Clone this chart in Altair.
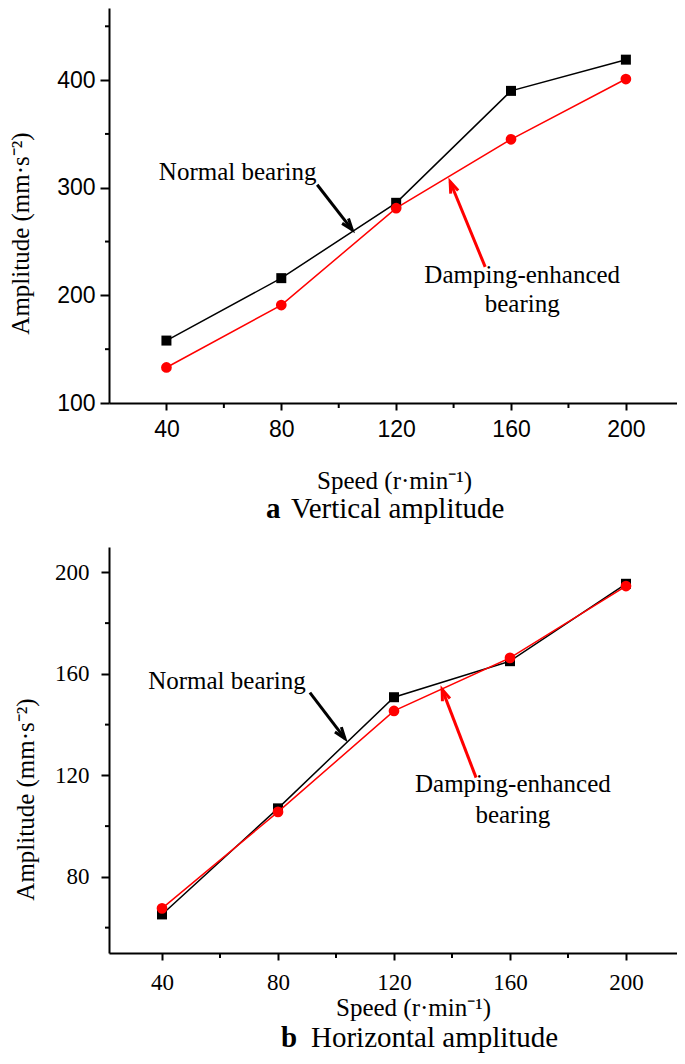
import math
import altair as alt
import pandas as pd

# ---------------- data ----------------
speeds = [40, 80, 120, 160, 200]
vert_normal = [158, 216, 286, 390, 419]
vert_damped = [133, 191, 281, 345, 401]
horiz_normal = [65.2, 107, 150.8, 165, 195.5]
horiz_damped = [67.6, 105.6, 145.4, 166.3, 194.6]

x_major = [40, 80, 120, 160, 200]
x_minor = [60, 100, 140, 180]
a_y_major = [100, 200, 300, 400]
a_y_minor = [150, 250, 350, 450]
b_y_major = [80, 120, 160, 200]
b_y_minor = [60, 100, 140, 180]

label_normal = "Normal bearing"
label_damped = ["Damping-enhanced", "bearing"]
x_title = "Speed (r\u00b7min\u207b\u00b9)"
y_title = "Amplitude (mm\u00b7s\u207b\u00b2)"
caption_a = ["a", "Vertical amplitude"]
caption_b = ["b", "Horizontal amplitude"]

# annotation anchors in data units: text (x, baseline y), arrows (x1, y1, x2, y2)
a_normal_text = (64.8, 307.4)
a_normal_arrow = (92.5, 302.8, 104.7, 260.9)
a_damp_arrow = (151.0, 226.5, 138.8, 305.6)
a_damp_text = (163.9, 211.6, 184.7)
b_normal_text = (62.4, 154.0)
b_normal_arrow = (91.0, 152.6, 103.1, 134.5)
b_damp_arrow = (148.3, 119.1, 136.6, 153.9)
b_damp_text = (161.0, 113.3, 101.2)

SERIF = "Liberation Serif"
SANS = "Liberation Sans"
CHEVRON = "M-0.5,1.4L0,0L0.5,1.4"


def make_panel(normal, damped, xdom, ydom, w, h, y_major, y_minor, tick_font,
               normal_text, normal_arrow, damp_arrow, damp_text, caption,
               x_lab_pad, x_title_y, x_title_x, y_tick, y_lab_pad,
               y_title_x, y_title_y, cap_x1, cap_x2, cap_y):
    xscale = alt.Scale(domain=xdom, nice=False, zero=False)
    yscale = alt.Scale(domain=ydom, nice=False, zero=False)
    xaxis = alt.Axis(values=x_major, tickSize=7, tickWidth=2, domainWidth=2,
                     labelPadding=x_lab_pad, labelBaseline="alphabetic",
                     labelFont=tick_font, labelFontSize=23, labelFlush=False,
                     title=x_title, titleFont=SERIF, titleFontSize=25,
                     titleFontWeight="normal", titleY=x_title_y, titleX=x_title_x,
                     titleBaseline="alphabetic", grid=False)
    yaxis = alt.Axis(values=y_major, tickSize=y_tick, tickWidth=2, domainWidth=2,
                     labelPadding=y_lab_pad, labelFont=tick_font, labelFontSize=23,
                     labelFlush=False,
                     title=y_title, titleFont=SERIF, titleFontSize=25,
                     titleFontWeight="normal", titleX=y_title_x, titleY=y_title_y,
                     titleBaseline="alphabetic", titleAngle=270, titleAlign="center",
                     grid=False)

    def X(f):
        return alt.X(f, type="quantitative", scale=xscale, axis=xaxis, title=x_title)

    def Y(f):
        return alt.Y(f, type="quantitative", scale=yscale, axis=yaxis, title=y_title)

    df = pd.DataFrame({"speed": speeds, "normal": normal, "damped": damped})

    y_min = alt.Chart(pd.DataFrame({"v": y_minor})).mark_rule(
        color="black", strokeWidth=2).encode(y=Y("v"), x=alt.value(-4), x2=alt.value(0))
    xm = [v for v in x_minor if xdom[0] < v < xdom[1]]
    x_min = alt.Chart(pd.DataFrame({"v": xm})).mark_rule(
        color="black", strokeWidth=2).encode(x=X("v"), y=alt.value(h), y2=alt.value(h + 5))

    line_n = alt.Chart(df).mark_line(color="black", strokeWidth=1.5).encode(
        x=X("speed"), y=Y("normal"))
    pts_n = alt.Chart(df).mark_point(shape="square", filled=True, color="black",
                                     size=100, opacity=1).encode(x=X("speed"), y=Y("normal"))
    line_d = alt.Chart(df).mark_line(color="#ff0000", strokeWidth=1.5).encode(
        x=X("speed"), y=Y("damped"))
    pts_d = alt.Chart(df).mark_point(shape="circle", filled=True, color="#ff0000",
                                     size=115, opacity=1).encode(x=X("speed"), y=Y("damped"))

    sx = w / (xdom[1] - xdom[0])
    sy = h / (ydom[1] - ydom[0])
    rows = []
    for (x1, y1, x2, y2), c in [(normal_arrow, "black"), (damp_arrow, "#ff0000")]:
        dx = (x2 - x1) * sx
        dy = -(y2 - y1) * sy
        ang = math.degrees(math.atan2(dx, -dy)) % 360
        rows.append({"x1": x1, "y1": y1, "x2": x2, "y2": y2, "c": c, "ang": ang})
    arrows = pd.DataFrame(rows)
    shafts = alt.Chart(arrows).mark_rule(strokeWidth=3).encode(
        x=X("x1"), y=Y("y1"), x2="x2", y2="y2", color=alt.Color("c:N", scale=None))
    heads = alt.Chart(arrows).mark_point(shape=CHEVRON, filled=False, size=260,
                                         strokeWidth=3, opacity=1).encode(
        x=X("x2"), y=Y("y2"), angle=alt.Angle("ang:Q", scale=None),
        color=alt.Color("c:N", scale=None))

    texts = pd.DataFrame({
        "x": [normal_text[0], damp_text[0], damp_text[0]],
        "y": [normal_text[1], damp_text[1], damp_text[2]],
        "t": [label_normal, label_damped[0], label_damped[1]],
    })
    ann = alt.Chart(texts).mark_text(font=SERIF, fontSize=25, align="center",
                                     baseline="alphabetic", color="black").encode(
        x=X("x"), y=Y("y"), text="t:N")

    cap1 = alt.Chart(pd.DataFrame({"t": [caption[0]]})).mark_text(
        font=SERIF, fontSize=29, fontWeight="bold", align="left",
        baseline="alphabetic", color="black").encode(
        x=alt.value(cap_x1), y=alt.value(cap_y), text="t:N")
    cap2 = alt.Chart(pd.DataFrame({"t": [caption[1]]})).mark_text(
        font=SERIF, fontSize=29, align="left",
        baseline="alphabetic", color="black").encode(
        x=alt.value(cap_x2), y=alt.value(cap_y), text="t:N")

    return alt.layer(y_min, x_min, line_n, pts_n, line_d, pts_d, shafts, heads,
                     ann, cap1, cap2).properties(width=w, height=h)


panel_a = make_panel(vert_normal, vert_damped, [20, 217.8], [100, 467], 568, 395,
                     a_y_major, a_y_minor, SANS,
                     a_normal_text, a_normal_arrow, a_damp_arrow, a_damp_text,
                     caption_a, x_lab_pad=26, x_title_y=85, x_title_x=285,
                     y_tick=9, y_lab_pad=5, y_title_x=-81, y_title_y=225,
                     cap_x1=157, cap_x2=182, cap_y=510)

panel_b = make_panel(horiz_normal, horiz_damped, [21.72, 217.59], [50, 210], 568, 406,
                     b_y_major, b_y_minor, SERIF,
                     b_normal_text, b_normal_arrow, b_damp_arrow, b_damp_text,
                     caption_b, x_lab_pad=29, x_title_y=62, x_title_x=304,
                     y_tick=8, y_lab_pad=12, y_title_x=-76, y_title_y=252,
                     cap_x1=172, cap_x2=202, cap_y=500)

chart = alt.vconcat(panel_a, panel_b, spacing=23).properties(
    padding=0, background="white"
).configure_view(stroke=None).configure_axis(
    domainColor="black", tickColor="black", labelColor="black", titleColor="black"
)

chart.save("out.html", embed_options={"renderer": "svg", "actions": False})
